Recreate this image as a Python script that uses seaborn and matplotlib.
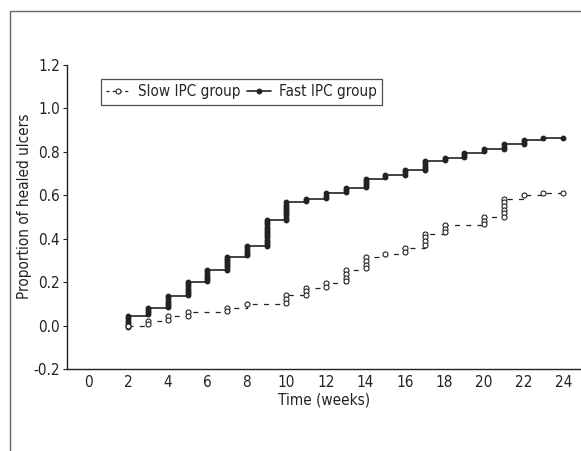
import numpy as np
import pandas as pd
import matplotlib
matplotlib.use('Agg')
import matplotlib.pyplot as plt
import seaborn as sns
from matplotlib.lines import Line2D
from matplotlib.patches import Rectangle

# Cumulative proportion of healed ulcers (weeks 2..24)
weeks = list(range(2, 25))
slow_healed = [0.0, 0.022, 0.043, 0.063, 0.063, 0.083, 0.10, 0.10, 0.14, 0.175,
               0.195, 0.255, 0.315, 0.33, 0.357, 0.423, 0.463, 0.463, 0.50, 0.585,
               0.60, 0.612, 0.612]
fast_healed = [0.043, 0.082, 0.135, 0.20, 0.255, 0.318, 0.365, 0.486, 0.567, 0.585,
               0.609, 0.635, 0.677, 0.695, 0.715, 0.757, 0.772, 0.797, 0.812, 0.834,
               0.855, 0.862, 0.862]
xticks = list(range(0, 25, 2))
yticks = [-0.2, 0.0, 0.2, 0.4, 0.6, 0.8, 1.0, 1.2]

sns.set_style('white')
plt.rcParams['font.family'] = ['DejaVu Sans']
plt.rcParams['font.stretch'] = 'condensed'

df = pd.DataFrame({'week': weeks, 'slow': slow_healed, 'fast': fast_healed})

fig = plt.figure(figsize=(5.81, 4.51), dpi=100)
# outer frame of the figure panel
fig.patches.append(Rectangle((10 / 581, -0.1), 1.2, (451 - 11) / 451 + 0.1,
                             transform=fig.transFigure, fill=False,
                             edgecolor='#666666', linewidth=1.0))
ax = fig.add_axes([67 / 581, 82 / 451, 1 - 67 / 581, 304 / 451])

sns.lineplot(data=df, x='week', y='fast', ax=ax, color='#222222', linewidth=1.2,
             drawstyle='steps-post')
sns.lineplot(data=df, x='week', y='slow', ax=ax, color='#222222', linewidth=0.9,
             drawstyle='steps-post', dashes=False, linestyle=(0, (4, 5)))


# stacked event markers along each jump, plus one at the end of follow-up
def stack_markers(levels, start, gap, **kw):
    prev = start
    for w, lev in zip(weeks, levels):
        if lev - prev > 1e-6 or w == weeks[0] or w == weeks[-1]:
            pts = np.arange(lev, prev - 1e-9, -gap) if lev - prev > gap else [lev]
            ax.plot([w] * len(pts), pts, linestyle='none', **kw)
        prev = lev


stack_markers(fast_healed, -0.008, 0.010, marker='o', markersize=3.2,
              color='#222222')
stack_markers(slow_healed, 0.0, 0.017, marker='o', markersize=3.6,
              markerfacecolor='white', markeredgecolor='#222222',
              markeredgewidth=0.8)

ax.set_xlim(-1.1, 24.9)
ax.set_ylim(-0.2, 1.2)
ax.set_xticks(xticks)
ax.set_yticks(yticks)
ax.set_yticklabels([f'{v:.1f}' for v in yticks])
ax.tick_params(axis='x', direction='in', length=2, width=0.8, labelsize=11,
               pad=4, colors='#222222')
ax.tick_params(axis='y', direction='out', length=3, width=0.8, labelsize=11,
               pad=2, colors='#222222', left=True)
ax.set_xlabel('Time (weeks)', fontsize=11, labelpad=2, color='#222222')
ax.set_ylabel('Proportion of healed ulcers', fontsize=11, color='#222222')
ax.yaxis.set_label_coords(-0.068, 0.536)
for side in ['top', 'right']:
    ax.spines[side].set_visible(False)
for side in ['left', 'bottom']:
    ax.spines[side].set_color('#222222')
    ax.spines[side].set_linewidth(1.0)

handles = [
    Line2D([], [], color='#222222', linewidth=0.9, linestyle=(0, (2.5, 2.5)),
           marker='o', markersize=3.6, markerfacecolor='white',
           markeredgecolor='#222222', markeredgewidth=0.8),
    Line2D([], [], color='#222222', linewidth=1.2, marker='o', markersize=3.2),
]
leg = ax.legend(handles, ['Slow IPC group', 'Fast IPC group'], ncol=2,
                loc='upper left', bbox_to_anchor=(0.066, 0.954), frameon=True,
                fancybox=False, shadow=False, fontsize=11, handlelength=1.6,
                handletextpad=0.5, columnspacing=0.4, borderpad=0.35,
                borderaxespad=0)
leg.get_frame().set_edgecolor('#222222')
leg.get_frame().set_linewidth(0.9)

fig.savefig('out.png', dpi=100)
